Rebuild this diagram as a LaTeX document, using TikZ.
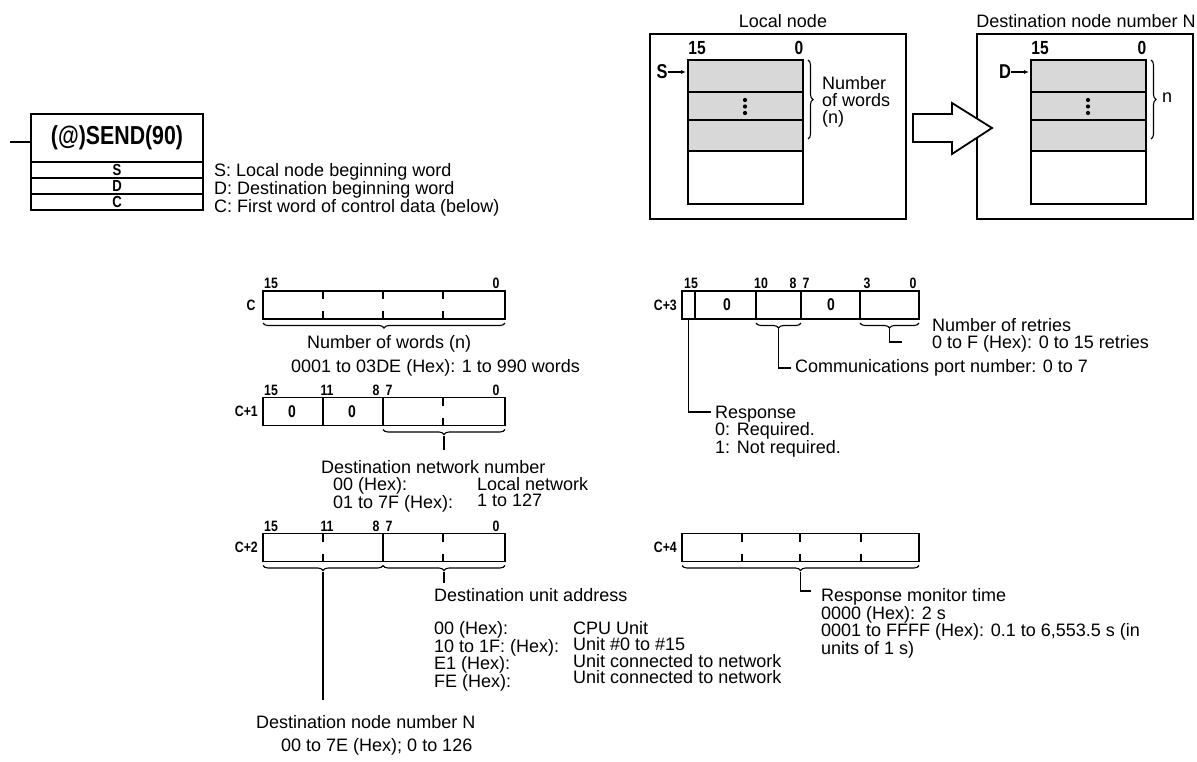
\documentclass[tikz,border=0pt]{standalone}
\usepackage{fontspec}
\setmainfont{Liberation Sans}
\newfontfamily\condfont[FakeStretch=0.82]{Liberation Sans}
\usetikzlibrary{arrows.meta,calc,decorations.pathreplacing}
\definecolor{cellgray}{HTML}{D8D8D8}

\begin{document}
\begin{tikzpicture}[x=1pt,y=-1pt,font=\fontsize{18}{16.5}\selectfont,
    txt/.style={anchor=north west,inner sep=0pt,align=left,
                execute at begin node={\vphantom{(}}},
    lbl/.style={inner sep=0pt,font=\condfont\bfseries\fontsize{#1}{#1}\selectfont},
    lbl/.default=15,
    reg/.style={draw,line width=1.7pt,inner sep=0pt,minimum height=28pt},
    box/.style={draw,line width=1.6pt,inner sep=0pt,minimum width=172pt},
    frame/.style={line width=1.8pt},
    fld/.style={line width=1.5pt},
    tick/.style={line width=1.5pt},
    brc/.style={line width=1.1pt,decorate,decoration={brace,mirror,amplitude=5pt}},
    rbrc/.style={line width=1.1pt,decorate,decoration={brace,amplitude=5pt}},
    lead/.style={line width=1.3pt},
    ptr/.style={line width=1.2pt,-{Latex[length=5pt,width=4pt]}}]
  \useasboundingbox (0,0) rectangle (1197,761);

  % instruction symbol
  \coordinate (rail) at (10,142);
  \node[box,minimum height=48pt,lbl=26] (send) at (117,138) {(@)SEND(90)};
  \node[box,minimum height=16pt,lbl=16] (sop) at (117,170) {S};
  \node[box,minimum height=16pt,lbl=16] (dop) at (117,186) {D};
  \node[box,minimum height=16pt,lbl=16] (cop) at (117,202) {C};
  \draw[line width=1.4pt] (rail) -- (rail -| send.west);
  \node[txt,font=\fontsize{18}{16}\selectfont] (ops) at (214,163.5)
    {S: Local node beginning word\\
    D: Destination beginning word\\C: First word of control data (below)};

  % local node and destination node
  \node (loct) at (783,21) {Local node};
  \node (dstt) at (1086,21) {Destination node number N};
  \draw[frame] (650,34) rectangle (906,219);
  \draw[frame] (977,34) rectangle (1193,219);
  \foreach \px/\nm in {688/S,1031/D}{
    \fill[cellgray] (\px,60) rectangle ++(115,91);
    \draw[fld] (\px,92) -- ++(115,0) (\px,120) -- ++(115,0) (\px,151) -- ++(115,0);
    \draw[frame] (\px,60) rectangle ++(115,144);
    \node[lbl=19] at (\px+9,48) {15};
    \node[lbl=19] at (\px+111,48) {0};
    \node[lbl=20] (p\nm) at (\px-26,72) {\nm};
    \coordinate (q\nm) at (\px-2,72);
    \draw[ptr] (p\nm) -- (q\nm);
    \foreach \dy in {100,106.5,113}{\fill (\px+57,\dy) circle (2.1);}
    \draw[rbrc] (\px+120,60) -- (\px+120,139);
  }
  \node[txt,font=\fontsize{18}{17}\selectfont] (nwl) at (822,76) {Number\\of words\\(n)};
  \node[anchor=west,inner sep=0pt] (nwd) at (1162,98) {n};
  \draw[frame,fill=white] (913,114) -- (952,114) -- (952,103) -- (992,128)
    -- (952,154) -- (952,142) -- (913,142) -- cycle;

  % C: number of words
  \node[reg,minimum width=242pt] (c0) at (384,305) {};
  \node[lbl] at (251,305) {C};
  \foreach \x in {323,383,443}{
    \draw[tick] (\x,291) -- ++(0,8) (\x,319) -- ++(0,-8);}
  \node[lbl] at (271,283) {15};
  \node[lbl] at (496,283) {0};
  \draw[brc] (263,323) -- (505,323);
  \node[txt] (nw) at (307,335.5) {Number of words (n)};
  \node[txt] (nwr) at (291,359.5) {0001 to 03DE (Hex): 1 to 990 words};

  % C+1: destination network
  \node[reg,minimum width=242pt] (c1) at (384,411.5) {};
  \node[lbl,anchor=east] at (258,411.5) {C+1};
  \draw[fld] (323,397.5) -- (323,425.5) (383,397.5) -- (383,425.5);
  \draw[tick] (443,397.5) -- ++(0,8) (443,425.5) -- ++(0,-8);
  \node[lbl=17] at (292,412) {0};
  \node[lbl=17] at (352,412) {0};
  \foreach \x/\b in {271/15,327/11,376/8,389/7,496/0}{\node[lbl] at (\x,390) {\b};}
  \draw[brc] (383,429.5) -- (505,429.5);
  \coordinate (n1) at (444,436);
  \coordinate (n2) at (444,450);
  \draw[lead] (n1) -- (n2);
  \node[txt] (dnn) at (321,460.5) {Destination network number};
  \node[txt] (dnk) at (333,477) {00 (Hex):\\01 to 7F (Hex):};
  \node[txt] (dnv) at (477,477) {Local network\\1 to 127};

  % C+2: destination node and unit address
  \node[reg,minimum width=242pt] (c2) at (384,547.5) {};
  \node[lbl,anchor=east] at (258,547.5) {C+2};
  \draw[fld] (383,533.5) -- (383,561.5);
  \foreach \x in {323,443}{
    \draw[tick] (\x,533.5) -- ++(0,8) (\x,561.5) -- ++(0,-8);}
  \foreach \x/\b in {271/15,327/11,376/8,389/7,496/0}{\node[lbl] at (\x,526) {\b};}
  \draw[brc] (263,565.5) -- (383,565.5);
  \draw[brc] (383,565.5) -- (505,565.5);
  \coordinate (u1) at (323,572);
  \coordinate (u2) at (323,700);
  \draw[lead] (u1) -- (u2);
  \coordinate (a1) at (444,572);
  \coordinate (a2) at (444,583);
  \draw[lead] (a1) -- (a2);
  \node[txt] (dua) at (434,588) {Destination unit address};
  \node[txt] (duk) at (434,621) {00 (Hex):\\10 to 1F: (Hex):\\E1 (Hex):\\FE (Hex):};
  \node[txt] (duv) at (573,621) {CPU Unit\\Unit \#0 to \#15\\Unit connected to network\\
    Unit connected to network};
  \node[txt] (dnd) at (256,715.5) {Destination node number N};
  \node[txt] (dnr) at (281,738.5) {00 to 7E (Hex); 0 to 126};

  % C+3: response, port, retries
  \node[reg,minimum width=237pt] (c3) at (800.5,305) {};
  \node[lbl,anchor=east] at (677,305) {C+3};
  \foreach \x in {695,756,801,860}{\draw[fld] (\x,291) -- (\x,319);}
  \node[lbl=17] at (727,305) {0};
  \node[lbl=17] at (831,305) {0};
  \foreach \x/\b in {691/15,761/10,793/8,806/7,867/3,913/0}{\node[lbl] at (\x,283) {\b};}
  \node[txt] (ret) at (932,318.5) {Number of retries\\0 to F (Hex): 0 to 15 retries};
  \node[txt] (prt) at (795,359.5) {Communications port number: 0 to 7};
  \node[txt] (rsp) at (715,405.5) {Response\\0: Required.\\1: Not required.};
  \draw[brc] (756,323) -- (801,323);
  \draw[brc] (860,323) -- (919,323);
  \coordinate (t1) at (889.5,329);
  \coordinate (t2) at (902,342);
  \draw[lead] (t1) |- (t2);
  \coordinate (p1) at (778.5,329);
  \draw[lead] (p1) |- ($(prt.west)+(-4,0)$);
  \coordinate (r1) at (688.5,319);
  \draw[lead] (r1) |- ($(rsp.north west)+(-4,6.5)$);

  % C+4: response monitor time
  \node[reg,minimum width=237pt] (c4) at (800.5,547.5) {};
  \node[lbl,anchor=east] at (677,547.5) {C+4};
  \foreach \x in {742,800,861}{
    \draw[tick] (\x,533.5) -- ++(0,8) (\x,561.5) -- ++(0,-8);}
  \node[txt] (rmt) at (821,588) {Response monitor time\\0000 (Hex): 2 s\\
    0001 to FFFF (Hex): 0.1 to 6,553.5 s (in\\units of 1 s)};
  \draw[brc] (682,565.5) -- (919,565.5);
  \coordinate (m1) at (800.5,572);
  \draw[lead] (m1) |- ($(rmt.north west)+(-10,3)$);
\end{tikzpicture}
\end{document}
